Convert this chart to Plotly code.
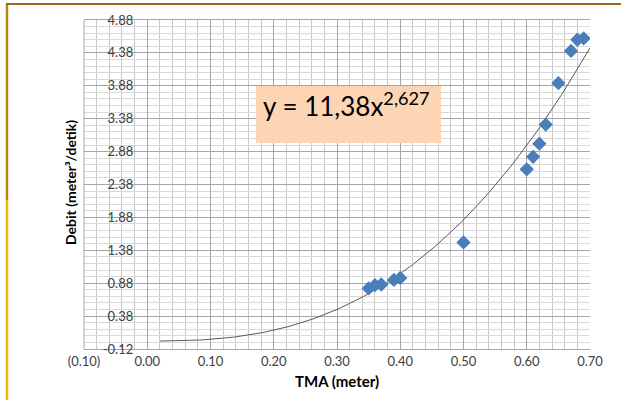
import plotly.graph_objects as go
import numpy as np

# Data
tma = [0.35, 0.36, 0.37, 0.39, 0.40, 0.50, 0.60, 0.61, 0.62, 0.63, 0.65, 0.67, 0.68, 0.69]
debit = [0.80, 0.85, 0.86, 0.93, 0.96, 1.50, 2.61, 2.80, 3.00, 3.29, 3.92, 4.41, 4.58, 4.60]

# Power trendline shown on the chart: y = 11,38 x^2,627
coef_a = 11.38
coef_b = 2.627
trend_x = np.linspace(0.02, 0.70, 120)
trend_y = coef_a * trend_x ** coef_b

x_tickvals = [-0.10, 0.00, 0.10, 0.20, 0.30, 0.40, 0.50, 0.60, 0.70]
x_ticktext = ["(0.10)", "0.00", "0.10", "0.20", "0.30", "0.40", "0.50", "0.60", "0.70"]
y_tickvals = [-0.12, 0.38, 0.88, 1.38, 1.88, 2.38, 2.88, 3.38, 3.88, 4.38, 4.88]
y_ticktext = ["-0.12", "0.38", "0.88", "1.38", "1.88", "2.38", "2.88", "3.38", "3.88", "4.38", "4.88"]

W, H = 621, 400
L, R, T, B = 84, 31, 20, 51
pw, ph = W - L - R, H - T - B

def px(xp):
    return (xp - L) / pw

def py(yp):
    return (H - B - yp) / ph

FONT = "Lato"

fig = go.Figure()
fig.add_trace(go.Scatter(x=trend_x, y=trend_y, mode="lines",
                         line=dict(color="#595959", width=1), hoverinfo="skip",
                         showlegend=False))
fig.add_trace(go.Scatter(x=tma, y=debit, mode="markers",
                         marker=dict(symbol="diamond", size=11, color="#4A7EBB"),
                         showlegend=False))

fig.update_layout(
    template="none",
    width=W, height=H,
    margin=dict(l=L, r=R, t=T, b=B, autoexpand=False),
    paper_bgcolor="white", plot_bgcolor="white",
    font=dict(family=FONT, size=13, color="#404040"),
    xaxis=dict(range=[-0.10, 0.70], tickvals=x_tickvals, ticktext=x_ticktext,
               automargin=False,
               showgrid=True, gridcolor="#A6A6A6", gridwidth=1,
               minor=dict(dtick=0.02, tick0=0, showgrid=True, gridcolor="#C8C8C8", gridwidth=1),
               zeroline=False, showline=True, linecolor="#A6A6A6", mirror=True,
               ticks="", tickfont=dict(size=13, family=FONT, color="#404040")),
    yaxis=dict(range=[-0.12, 4.88], tickvals=y_tickvals, ticktext=y_ticktext,
               automargin=False,
               anchor="free", position=px(147.25),
               showgrid=True, gridcolor="#A6A6A6", gridwidth=1,
               minor=dict(dtick=0.1, tick0=-0.12, showgrid=True, gridcolor="#D9D9D9", gridwidth=1),
               zeroline=False, showline=False,
               ticks="", ticklabelstandoff=14,
               tickfont=dict(size=13, family=FONT, color="#404040")),
    shapes=[
        dict(type="line", xref="paper", yref="paper", x0=px(7), x1=px(7), y0=py(4), y1=py(200),
             line=dict(color="#B8860B", width=2.5)),
        dict(type="line", xref="paper", yref="paper", x0=px(7), x1=px(7), y0=py(200), y1=py(402),
             line=dict(color="#F5B800", width=2.5)),
        dict(type="line", xref="paper", yref="paper", x0=px(6), x1=px(623), y0=py(4), y1=py(4),
             line=dict(color="#9B6A1F", width=2)),
        dict(type="line", xref="paper", yref="paper", x0=px(84), x1=px(84), y0=0, y1=1,
             line=dict(color="#A6A6A6", width=1)),
        dict(type="rect", xref="paper", yref="paper", x0=px(256), x1=px(441), y0=py(143), y1=py(86),
             fillcolor="#FCD5B5", line=dict(width=0)),
    ],
    annotations=[
        dict(text="y = 11,38x<sup>2,627</sup>", xref="paper", yref="paper",
             x=px(261), y=py(104), xanchor="left", yanchor="middle", showarrow=False,
             font=dict(family=FONT, size=26, color="#000000")),
        dict(text="<b>Debit (meter³/detik)</b>", xref="paper", yref="paper",
             x=px(70), y=py(183), xanchor="center", yanchor="middle", textangle=-90,
             showarrow=False, font=dict(family=FONT, size=14, color="#000000")),
        dict(text="<b>TMA (meter)</b>", xref="paper", yref="paper",
             x=px(337), y=py(381), xanchor="center", yanchor="middle",
             showarrow=False, font=dict(family=FONT, size=15, color="#000000")),
    ],
)

fig.write_html("out.html", config={"displayModeBar": False},
               post_script="document.body.style.margin='0';document.body.style.overflow='hidden';")
